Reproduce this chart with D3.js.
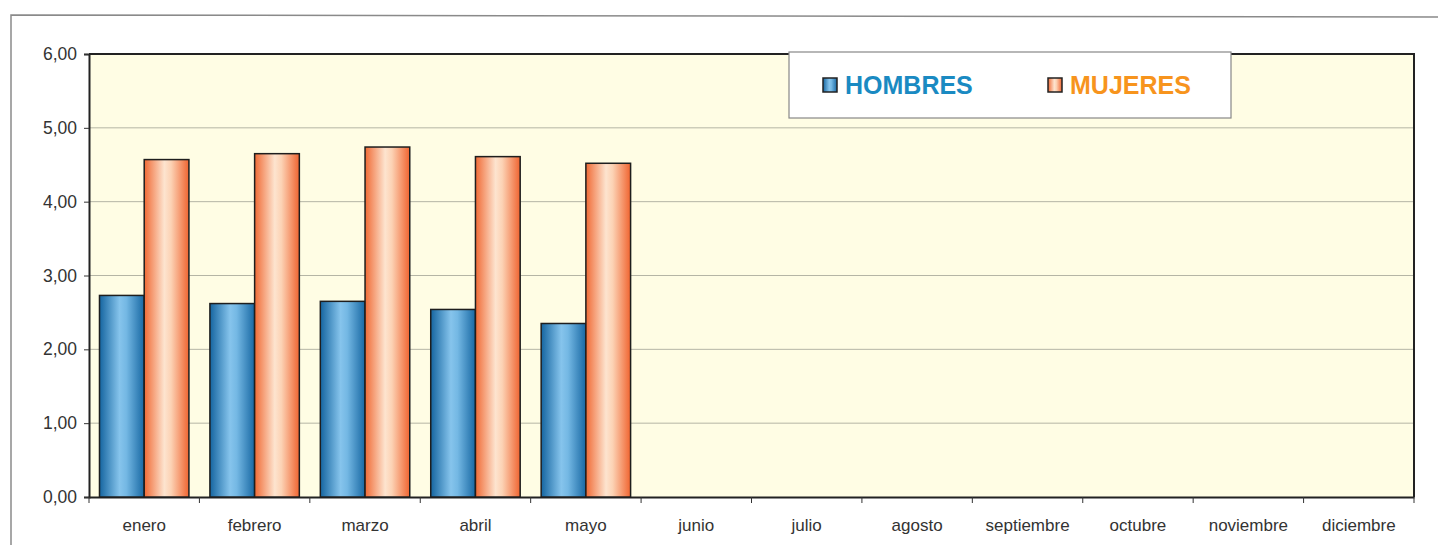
<!DOCTYPE html>
<html><head><meta charset="utf-8">
<script src="https://cdn.jsdelivr.net/npm/d3@7"></script>
<style>body{margin:0;background:#fff;}svg{display:block;font-family:"Liberation Sans",Arial,sans-serif;}</style>
</head><body>
<svg id="c" width="1438" height="545"></svg>
<script>
const months = ["enero","febrero","marzo","abril","mayo","junio","julio","agosto","septiembre","octubre","noviembre","diciembre"];
const series = ["HOMBRES","MUJERES"];
const hombres = [2.73, 2.62, 2.65, 2.54, 2.35];
const mujeres = [4.57, 4.65, 4.74, 4.61, 4.52];
const yTicks = [0,1,2,3,4,5,6];

const svg = d3.select("#c");
const m = {l:89, r:1414, t:54, b:497};
const x = d3.scaleBand().domain(months).range([m.l, m.r]).paddingInner(0.19).paddingOuter(0.095);
const xs = d3.scaleBand().domain(series).range([0, x.bandwidth()]);
const y = d3.scaleLinear().domain([0,6]).range([m.b, m.t]);

const defs = svg.append("defs");
function grad(id, stops){
  const g = defs.append("linearGradient").attr("id", id).attr("x1","0").attr("x2","1").attr("y1","0").attr("y2","0");
  stops.forEach(s=>g.append("stop").attr("offset",s[0]).attr("stop-color",s[1]));
}
grad("gb", [[0,"#1565a0"],[0.45,"#86c4ec"],[0.6,"#74b8e4"],[1,"#1868a3"]]);
grad("go", [[0,"#f06a35"],[0.45,"#fde4cf"],[0.6,"#fcd2b4"],[1,"#f06430"]]);

// outer frame
svg.append("path").attr("d","M11,545 L11,15 L1438,17").attr("fill","none").attr("stroke","#8a8a8a").attr("stroke-width",1.5);

// plot bg
svg.append("rect").attr("x",m.l).attr("y",m.t).attr("width",m.r-m.l).attr("height",m.b-m.t).attr("fill","#fffde4");

// gridlines
svg.append("g").selectAll("line").data(yTicks.filter(d=>d>0 && d<6)).join("line")
  .attr("x1",m.l).attr("x2",m.r).attr("y1",d=>y(d)).attr("y2",d=>y(d))
  .attr("stroke","#b5b5a5").attr("stroke-width",1);

// y axis
const ya = svg.append("g").attr("transform",`translate(${m.l},0)`)
  .call(d3.axisLeft(y).tickValues(yTicks).tickSize(5).tickFormat(d=>d3.format(".2f")(d).replace(".",",")));
ya.select(".domain").attr("stroke","#222").attr("stroke-width",2);
ya.selectAll(".tick line").attr("stroke","#333");
ya.selectAll("text").attr("font-size",17.5).attr("fill","#333").attr("x",-12);

// x axis
const xa = svg.append("g").attr("transform",`translate(0,${m.b})`)
  .call(d3.axisBottom(x).tickSize(0));
xa.select(".domain").attr("stroke","#222").attr("stroke-width",2);
xa.selectAll("text").attr("font-size",17).attr("fill","#333").attr("dy","1.85em");
const bounds = d3.range(months.length+1).map(i=>m.l + i*(m.r-m.l)/months.length);
xa.selectAll(".bt").data(bounds).join("line").attr("class","bt")
  .attr("x1",d=>d).attr("x2",d=>d).attr("y1",0).attr("y2",6).attr("stroke","#333");

// top & right border
svg.append("path").attr("d",`M${m.l},${m.t} L${m.r},${m.t} L${m.r},${m.b}`).attr("fill","none").attr("stroke","#222").attr("stroke-width",2);

// bars
const data = [];
hombres.forEach((v,i)=>data.push({m:months[i], s:"HOMBRES", v}));
mujeres.forEach((v,i)=>data.push({m:months[i], s:"MUJERES", v}));
svg.append("g").selectAll("rect").data(data).join("rect")
  .attr("x",d=>x(d.m)+xs(d.s)).attr("width",xs.bandwidth())
  .attr("y",d=>y(d.v)).attr("height",d=>y(0)-y(d.v))
  .attr("fill",d=>d.s==="HOMBRES"?"url(#gb)":"url(#go)")
  .attr("stroke","#1e1e1e").attr("stroke-width",1.5);

// legend
const lg = svg.append("g");
lg.append("rect").attr("x",789).attr("y",52).attr("width",442).attr("height",66).attr("fill","#fff").attr("stroke","#888").attr("stroke-width",1.2);
const li = [{s:"HOMBRES", x:823, c:"#1a8ac2", f:"url(#gb)"},{s:"MUJERES", x:1048, c:"#f7941d", f:"url(#go)"}];
li.forEach(d=>{
  lg.append("rect").attr("x",d.x).attr("y",78).attr("width",14).attr("height",14).attr("fill",d.f).attr("stroke","#222").attr("stroke-width",1.5);
  lg.append("text").attr("x",d.x+22).attr("y",94).attr("font-size",25).attr("font-weight","bold").attr("fill",d.c).text(d.s);
});
</script>
</body></html>
